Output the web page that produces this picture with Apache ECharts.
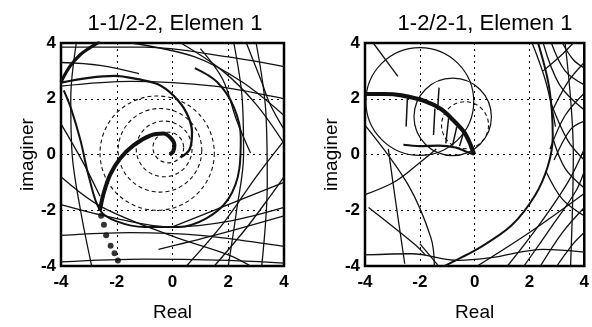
<!DOCTYPE html>
<html>
<head>
<meta charset="utf-8">
<script src="https://cdn.jsdelivr.net/npm/echarts@6/dist/echarts.min.js"></script>
<style>
  html, body { margin: 0; padding: 0; background: #fff; }
  #chart { width: 592px; height: 327px; }
</style>
</head>
<body>
<div id="chart"></div>
<script>
// ---- axis setup ----
const axisMin = -4, axisMax = 4, axisStep = 2;
const titles = ['1-1/2-2, Elemen 1', '1-2/2-1, Elemen 1'];
const xName = 'Real';
const yName = 'imaginer';

// ---- left panel (1-1/2-2) ----
const leftSpiral = [[-2.6,-2.0],[-2.48,-1.43],[-2.24,-0.73],[-1.88,-0.14],[-1.4,0.33],[-0.8,0.68],[-0.33,0.75],[-0.04,0.57],[0.07,0.33],[0.02,0.1],[-0.1,0.0]];
const leftSpiralDots = [[-2.56,-2.2],[-2.46,-2.52],[-2.38,-2.9],[-2.22,-3.27],[-2.08,-3.54],[-1.96,-3.8]];
const leftTopArm = [[-4,2.6],[-3.68,3.16],[-3.32,3.57],[-2.9,3.87],[-2.6,4.05]];
const leftArmInner = [[-4,2.58],[-3,2.75],[-2.08,2.82],[-1.24,2.7],[-0.52,2.52],[0.05,2.1],[0.5,1.5],[0.7,0.8],[0.62,0.2],[0.3,-0.1]];
const leftArmOuter = [[-3.9,2.3],[-3.63,1.62],[-3.3,0.5],[-3.0,-0.8],[-2.6,-2.0],[-2.0,-2.4],[-1.0,-2.6],[0.2,-2.6],[1.2,-2.3],[2.0,-1.6],[2.4,-0.5],[2.45,0.6],[2.2,1.7],[1.6,2.6],[0.8,3.1]];
// nested loci: [centre re, centre im, radius, from deg, to deg]
const leftLoops = [[-0.15,0.25,0.55,0,360],[-0.3,0.2,1.0,0,360],[-0.45,0.15,1.5,0,360],[-0.55,0.05,2.05,0,360]];
const leftMesh = [
  [[-4,2.45],[-1.5,2.62],[1.5,2.45],[4,2.0]],
  [[-4,3.85],[-1,3.85],[2,3.5],[4,3.15]],
  [[-1.5,4],[0.8,3.5],[2.5,2.6],[4,1.4]],
  [[0.3,4],[1.8,3.0],[3,1.8],[4,0.4]],
  [[2.2,4],[2.5,2],[2.55,0],[2.3,-2],[2.0,-4]],
  [[3.0,4],[3.35,1.5],[3.4,-1],[3.2,-4]],
  [[-3.45,4],[-3.65,2],[-3.6,0],[-3.3,-2],[-2.9,-4]],
  [[-4,-1.8],[-2,-2.3],[0,-2.6],[2,-2.4],[4,-1.9]],
  [[-4,-2.9],[-1.5,-2.8],[1,-2.9],[4,-3.3]],
  [[-4,-3.85],[-1,-3.75],[2,-3.8],[4,-3.9]],
  [[-4,-0.8],[-2.56,-1.87],[0,-2.93],[2,-3.6],[2.8,-4]],
  [[0.5,-4],[1.8,-2.5],[3,-0.8],[4,0.5]],
  [[1.5,-4],[2.6,-2.7],[3.5,-1.5],[4,-0.8]],
  [[1.0,3.8],[1.8,2.7],[2.3,1.23],[2.8,0.05]],
  [[2.65,4],[3.2,2.6],[3.5,1.8],[4,0.9]],
  [[0,-2.6],[2,-1.8],[4,-1.0]],
  [[-0.5,-3.4],[1.5,-2.9],[4,-2.2]],
  [[-4,1.1],[-3.2,-0.3],[-2.6,-1.5]],
  [[-4,3.3],[-2.6,3.2],[-1.2,2.9]]
];

// ---- right panel (1-2/2-1) ----
const rightThickArc = [[-3.95,2.17],[-3.3,2.17],[-2.67,2.12],[-1.83,1.92],[-1.23,1.63],[-0.75,1.2],[-0.38,0.8],[-0.14,0.33],[-0.02,0]];
const rightLoopBase = [[-2.6,0.35],[-2.0,0.3],[-1.3,0.32],[-0.7,0.25],[-0.3,0.1],[-0.02,0]];
const rightLoops = [[-2.0,1.9,1.95,0,360],[-0.8,1.35,1.4,0,360]];
const rightInnerLoops = [[-0.35,1.05,0.85,0,360]];
const rightEnvelope = [[2.3,4.05],[2.72,2.4],[2.85,0.64],[2.67,-0.42],[2.19,-1.49],[1.34,-2.55],[0.14,-3.37],[-0.6,-3.75],[-1.2,-4.05]];
const rightMesh = [
  [[2.5,4],[3.1,2.5],[4,1.6]],
  [[2.8,4],[3.3,3.0],[4,2.5]],
  [[3.2,4],[3.6,3.4],[4,3.1]],
  [[2.8,1.8],[3.4,0.5],[4,-0.2]],
  [[2.85,0.6],[3.3,-0.5],[4,-1.2]],
  [[2.6,-0.6],[3.2,-1.6],[4,-2.2]],
  [[1.2,-4],[2.3,-2.6],[3.4,-1.0],[4,0.2]],
  [[1.8,-4],[2.8,-2.6],[3.7,-1.3],[4,-0.6]],
  [[2.4,-4],[3.2,-2.8],[4,-1.9]],
  [[3.0,-4],[3.6,-3.2],[4,-2.8]],
  [[2.75,0.2],[3.3,1.4],[4,2.2]],
  [[2.8,1.5],[3.4,2.6],[4,3.3]],
  [[2.5,3.0],[3.2,3.6],[3.6,4]],
  [[3.3,4],[3.6,0],[3.5,-4]],
  [[2.1,4],[2.6,2.6],[2.95,1.0]],
  [[2.9,-0.2],[3.5,0.9],[4,1.2]],
  [[-4,-3.6],[-2.3,-3.56],[-0.6,-3.8],[0.6,-3.7],[2.5,-3.4],[4,-3.5]],
  [[0.1,-4],[2,-2.8],[4,-1.4]],
  [[-3.98,1.03],[-2.43,-1.08],[-1.59,-3.0],[-1.47,-4]],
  [[-3.15,0.2],[-2.9,-1.56],[-2.55,-3.92]],
  [[-4,-1.44],[-2.9,-0.97],[-1.95,-0.25],[-1.4,0.2]],
  [[-3.87,-1.9],[-2.2,-3.21],[-1.8,-3.6]],
  [[-2.0,-3.2],[-1.35,-3.96]],
  [[-3.7,4],[-2.8,2.8]]
];
const rightStubs = [
  [[-2.45,2.1],[-2.5,1.0]],
  [[-1.45,1.65],[-1.5,0.7]],
  [[-1.3,2.4],[-1.35,1.6]],
  [[-0.95,1.3],[-1.05,0.4]],
  [[-0.65,1.0],[-0.8,0.35]],
  [[-0.4,0.8],[-0.55,0.3]]
];

// ---- chart ----
const FONT = 'Liberation Sans, Arial, sans-serif';
const ink = '#111';

function curve(data, gi, width, dash) {
  return {
    type: 'line', xAxisIndex: gi, yAxisIndex: gi, data: data,
    smooth: 0.35, showSymbol: false, silent: true, clip: true,
    lineStyle: { color: ink, width: width, type: dash || 'solid' }
  };
}

function arcs(data, gi, width, dash) {
  return {
    type: 'custom', xAxisIndex: gi, yAxisIndex: gi, data: data, clip: true, silent: true,
    renderItem: function (params, api) {
      const c = api.coord([api.value(0), api.value(1)]);
      const s = api.size([api.value(2), api.value(2)]);
      return {
        type: 'arc',
        shape: {
          cx: c[0], cy: c[1], r: (s[0] + s[1]) / 2,
          startAngle: -api.value(4) * Math.PI / 180,
          endAngle: -api.value(3) * Math.PI / 180,
          clockwise: true
        },
        style: { stroke: ink, fill: 'none', lineWidth: width, lineDash: dash || null }
      };
    }
  };
}

const tickText = { color: '#000', fontSize: 17, fontWeight: 'bold', fontFamily: FONT };
const nameText = { color: '#000', fontSize: 19, fontFamily: FONT };
const gridLine = { show: true, lineStyle: { color: '#000', width: 1, type: [2, 4] } };

function xAxis(gi) {
  return {
    type: 'value', gridIndex: gi, min: axisMin, max: axisMax, interval: axisStep,
    axisLine: { show: false }, axisTick: { show: false }, splitLine: gridLine,
    axisLabel: Object.assign({ margin: 8 }, tickText),
    name: xName, nameLocation: 'middle', nameGap: 37, nameTextStyle: nameText
  };
}
function yAxis(gi) {
  return {
    type: 'value', gridIndex: gi, min: axisMin, max: axisMax, interval: axisStep,
    axisLine: { show: false }, axisTick: { show: false }, splitLine: gridLine,
    axisLabel: Object.assign({ margin: 5 }, tickText),
    name: yName, nameLocation: 'middle', nameGap: 22, nameTextStyle: nameText
  };
}

const series = [];
// left
leftMesh.forEach(c => series.push(curve(c, 0, 1.3)));
series.push(arcs(leftLoops, 0, 1.1, [4, 3]));
series.push(curve(leftArmOuter, 0, 2));
series.push(curve(leftArmInner, 0, 2.3));
series.push(curve(leftTopArm, 0, 3.2));
series.push(curve(leftSpiral, 0, 4));
series.push({
  type: 'scatter', xAxisIndex: 0, yAxisIndex: 0, data: leftSpiralDots,
  symbolSize: 6, itemStyle: { color: '#000' }, silent: true
});
// right
rightMesh.forEach(c => series.push(curve(c, 1, 1.3)));
rightStubs.forEach(c => series.push(curve(c, 1, 1.5)));
series.push(arcs(rightLoops, 1, 1.2));
series.push(arcs(rightInnerLoops, 1, 1.1, [4, 3]));
series.push(curve(rightEnvelope, 1, 2));
series.push(curve(rightLoopBase, 1, 2.2));
series.push(curve(rightThickArc, 1, 4.2));

const chart = echarts.init(document.getElementById('chart'), null, { renderer: 'canvas' });
chart.setOption({
  animation: false,
  backgroundColor: '#fff',
  title: [
    { text: titles[0], left: 170, top: 8, textAlign: 'center',
      textStyle: { fontSize: 22, fontWeight: 'normal', color: '#000', fontFamily: FONT } },
    { text: titles[1], left: 480, top: 8, textAlign: 'center',
      textStyle: { fontSize: 22, fontWeight: 'normal', color: '#000', fontFamily: FONT } }
  ],
  grid: [
    { left: 61, top: 43, width: 223, height: 226, show: true, borderColor: '#000', borderWidth: 2.5, backgroundColor: 'transparent' },
    { left: 365, top: 43, width: 222, height: 226, show: true, borderColor: '#000', borderWidth: 2.5, backgroundColor: 'transparent' }
  ],
  xAxis: [xAxis(0), xAxis(1)],
  yAxis: [yAxis(0), yAxis(1)],
  series: series
});
</script>
</body>
</html>
